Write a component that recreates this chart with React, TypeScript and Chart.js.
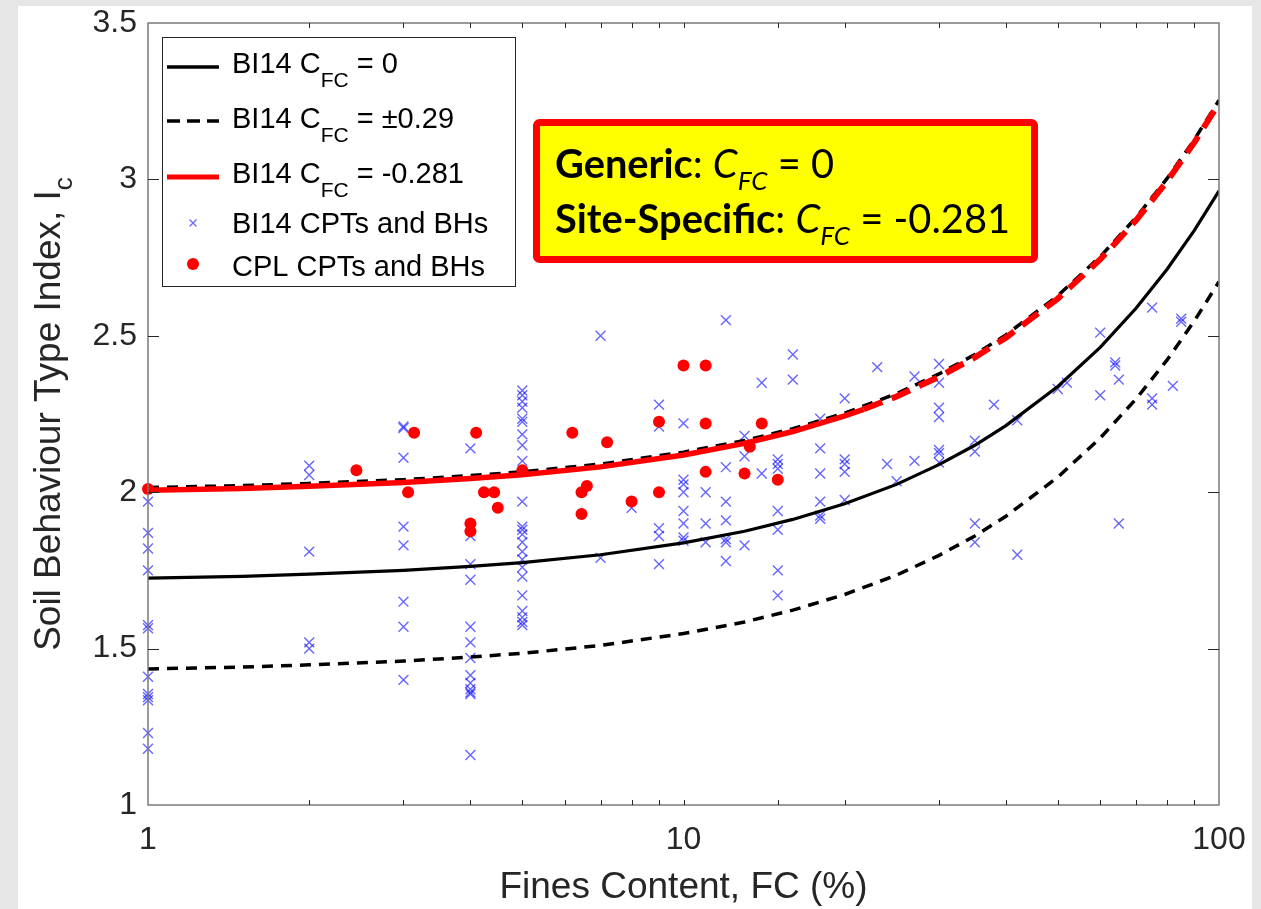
import React, { useEffect, useRef } from "react";
import { Chart, registerables } from "chart.js";

Chart.register(...registerables);

// ---------------- DATA ----------------
// Boulanger & Idriss (2014) curves, values read at these fines contents
const curveFC = [1, 1.5, 2, 3, 4, 5, 7, 10, 13, 16, 20, 25, 30, 35, 40, 50, 60, 70, 80, 90, 100];
const icGeneric = [1.725, 1.731, 1.738, 1.75, 1.763, 1.775, 1.8, 1.838, 1.875, 1.913, 1.963, 2.025, 2.088, 2.15, 2.213, 2.338, 2.463, 2.588, 2.713, 2.838, 2.963];
const icUpper = [2.015, 2.021, 2.028, 2.04, 2.053, 2.065, 2.09, 2.128, 2.165, 2.203, 2.253, 2.315, 2.378, 2.44, 2.503, 2.628, 2.753, 2.878, 3.003, 3.128, 3.253];
const icLower = [1.435, 1.441, 1.448, 1.46, 1.473, 1.485, 1.51, 1.548, 1.585, 1.623, 1.673, 1.735, 1.798, 1.86, 1.923, 2.048, 2.173, 2.298, 2.423, 2.548, 2.673];

// Site-specific curve: solid part, then dashed part
const siteSolidFC = [1, 1.5, 2, 3, 4, 5, 7, 10, 13, 16, 20, 21.7];
const siteSolidIc = [2.006, 2.012, 2.019, 2.031, 2.044, 2.056, 2.081, 2.119, 2.156, 2.194, 2.244, 2.265];
const siteDashFC = [21.7, 25, 30, 35, 40, 50, 60, 70, 80, 90, 100];
const siteDashIc = [2.265, 2.306, 2.369, 2.431, 2.494, 2.619, 2.744, 2.869, 2.994, 3.119, 3.244];

// BI14 CPTs and BHs (blue crosses)
const blueFC = [
  1, 1, 1, 1, 1, 1, 1, 1, 1, 1, 1, 1,
  2, 2, 2, 2, 2,
  3, 3, 3, 3, 3, 3, 3, 3,
  4, 4, 4, 4, 4, 4, 4, 4, 4, 4, 4, 4, 4,
  5, 5, 5, 5, 5, 5, 5, 5, 5, 5, 5, 5, 5, 5, 5, 5, 5, 5, 5, 5, 5, 5, 5,
  7, 7, 8,
  9, 9, 9, 9, 9,
  10, 10, 10, 10, 10, 10, 10, 10,
  11, 11, 11,
  12, 12, 12, 12, 12, 12, 12,
  13, 13, 13,
  14, 14,
  15, 15, 15, 15, 15, 15, 15,
  16, 16,
  18, 18, 18, 18, 18, 18,
  20, 20, 20, 20, 20,
  23, 24, 25, 27, 27,
  30, 30, 30, 30, 30, 30, 30,
  35, 35, 35, 35,
  38, 42, 42, 50, 52,
  60, 60, 64, 64, 65, 65,
  75, 75, 75, 82, 85, 85,
];
const blueIc = [
  1.97, 1.87, 1.82, 1.75, 1.575, 1.565, 1.41, 1.355, 1.345, 1.335, 1.23, 1.18,
  2.085, 2.055, 1.81, 1.52, 1.5,
  2.21, 2.205, 2.11, 1.89, 1.83, 1.65, 1.57, 1.4,
  2.14, 1.86, 1.77, 1.72, 1.57, 1.52, 1.47, 1.415, 1.39, 1.37, 1.36, 1.355, 1.16,
  2.325, 2.31, 2.29, 2.27, 2.235, 2.225, 2.185, 2.15, 2.1, 1.97, 1.89, 1.88, 1.865, 1.84, 1.81, 1.785, 1.76, 1.73, 1.67, 1.62, 1.6, 1.585, 1.575,
  2.5, 1.79, 1.95,
  2.28, 2.21, 1.885, 1.86, 1.77,
  2.22, 2.04, 2.025, 2.0, 1.94, 1.9, 1.855, 1.845,
  2.0, 1.9, 1.84,
  2.55, 2.08, 1.97, 1.91, 1.85, 1.84, 1.78,
  2.18, 2.115, 1.83,
  2.35, 2.06,
  2.105, 2.09, 2.075, 1.94, 1.88, 1.75, 1.67,
  2.44, 2.36,
  2.235, 2.14, 2.06, 1.97, 1.925, 1.915,
  2.3, 2.105, 2.09, 2.065, 1.975,
  2.4, 2.09, 2.035, 2.37, 2.1,
  2.41, 2.35, 2.27, 2.24, 2.135, 2.125, 2.095,
  2.165, 2.13, 1.9, 1.84,
  2.28, 2.23, 1.8, 2.33, 2.35,
  2.51, 2.31, 2.415, 2.405, 2.36, 1.9,
  2.59, 2.3, 2.28, 2.34, 2.555, 2.545,
];

// CPL CPTs and BHs (red dots)
const redFC = [1, 2.45, 3.14, 3.06, 4.1, 4, 4, 4.24, 4.43, 4.5, 5, 6.2, 6.45, 6.6, 6.45, 7.2, 8, 9, 9, 10, 11, 11, 11, 13, 13.3, 14, 15];
const redIc = [2.01, 2.07, 2.19, 2.0, 2.19, 1.9, 1.875, 2.0, 2.0, 1.95, 2.07, 2.19, 2.0, 2.02, 1.93, 2.16, 1.97, 2.225, 2.0, 2.405, 2.405, 2.22, 2.065, 2.06, 2.145, 2.22, 2.04];

const xMajorLabels = [1, 10, 100];
const yTickValues = [1, 1.5, 2, 2.5, 3, 3.5];

// ---------------- helpers ----------------
const SANS = '"Liberation Sans", Arial, Helvetica, sans-serif';
const f = (size: number, style = "") => `${style} ${size}px ${SANS}`.trim();
const pts = (xs: number[], ys: number[]) => xs.map((x, i) => ({ x, y: ys[i] }));

type Seg = { t: string; font: string; dy?: number };
function richWidth(ctx: CanvasRenderingContext2D, segs: Seg[]) {
  let w = 0;
  for (const s of segs) {
    ctx.font = s.font;
    w += ctx.measureText(s.t).width;
  }
  return w;
}
function drawRich(ctx: CanvasRenderingContext2D, x: number, y: number, segs: Seg[]) {
  let cx = x;
  for (const s of segs) {
    ctx.font = s.font;
    ctx.fillText(s.t, cx, y + (s.dy || 0));
    cx += ctx.measureText(s.t).width;
  }
  return cx - x;
}

const overlayPlugin = {
  id: "matlabOverlay",
  afterDatasetsDraw(chart: any) {
    const ctx: CanvasRenderingContext2D = chart.ctx;
    const { left, right, top, bottom } = chart.chartArea;
    const xs = chart.scales.x;
    const ys = chart.scales.y;
    ctx.save();
    // axes box
    ctx.strokeStyle = "#7a7a7a";
    ctx.lineWidth = 1.5;
    ctx.strokeRect(left, top, right - left, bottom - top);
    // inward ticks
    ctx.strokeStyle = "#262626";
    ctx.lineWidth = 1;
    ctx.beginPath();
    for (const t of xs.ticks) {
      const px = Math.round(xs.getPixelForValue(t.value)) + 0.5;
      if (px < left + 1 || px > right - 1) continue;
      ctx.moveTo(px, bottom);
      ctx.lineTo(px, bottom - 5);
      ctx.moveTo(px, top);
      ctx.lineTo(px, top + 5);
    }
    for (const t of ys.ticks) {
      const py = Math.round(ys.getPixelForValue(t.value)) + 0.5;
      if (py < top + 1 || py > bottom - 1) continue;
      ctx.moveTo(left, py);
      ctx.lineTo(left + 11, py);
      ctx.moveTo(right, py);
      ctx.lineTo(right - 11, py);
    }
    ctx.stroke();
    ctx.restore();
  },
  afterDraw(chart: any) {
    const ctx: CanvasRenderingContext2D = chart.ctx;
    const { left, right, top, bottom } = chart.chartArea;
    ctx.save();

    // ---- axis titles ----
    ctx.fillStyle = "#262626";
    ctx.textBaseline = "alphabetic";
    ctx.textAlign = "left";
    const xt: Seg[] = [{ t: "Fines Content, FC (%)", font: f(37) }];
    const xw = richWidth(ctx, xt);
    drawRich(ctx, (left + right) / 2 - xw / 2, bottom + 93, xt);

    const yt: Seg[] = [
      { t: "Soil Behaviour Type Index, I", font: f(37) },
      { t: "c", font: f(26), dy: 12 },
    ];
    const yw = richWidth(ctx, yt);
    ctx.save();
    ctx.translate(42, (top + bottom) / 2);
    ctx.rotate(-Math.PI / 2);
    drawRich(ctx, -yw / 2, 0, yt);
    ctx.restore();

    // ---- legend ----
    const lgL = left + 14, lgT = top + 14, lgR = left + 367, lgB = top + 263;
    ctx.fillStyle = "#ffffff";
    ctx.fillRect(lgL, lgT, lgR - lgL, lgB - lgT);
    ctx.strokeStyle = "#262626";
    ctx.lineWidth = 1;
    ctx.strokeRect(lgL + 0.5, lgT + 0.5, lgR - lgL, lgB - lgT);

    const lx0 = lgL + 5, lx1 = lgL + 57, tx = lgL + 70;
    const rowY = [lgT + 30, lgT + 84, lgT + 140, lgT + 186, lgT + 227];
    const sample = (y: number, color: string, w: number, dash: number[]) => {
      ctx.save();
      ctx.strokeStyle = color;
      ctx.lineWidth = w;
      ctx.setLineDash(dash);
      ctx.beginPath();
      ctx.moveTo(lx0, y);
      ctx.lineTo(lx1, y);
      ctx.stroke();
      ctx.restore();
    };
    sample(rowY[0], "#000000", 3.5, []);
    sample(rowY[1], "#000000", 3.5, [13, 7]);
    sample(rowY[2], "#ff0000", 5, []);
    const mx = (lx0 + lx1) / 2;
    ctx.save();
    ctx.strokeStyle = "rgba(0,0,255,0.6)";
    ctx.lineWidth = 1.3;
    ctx.beginPath();
    ctx.moveTo(mx - 3.5, rowY[3] - 3.5);
    ctx.lineTo(mx + 3.5, rowY[3] + 3.5);
    ctx.moveTo(mx + 3.5, rowY[3] - 3.5);
    ctx.lineTo(mx - 3.5, rowY[3] + 3.5);
    ctx.stroke();
    ctx.fillStyle = "#ff0000";
    ctx.beginPath();
    ctx.arc(mx, rowY[4], 6, 0, Math.PI * 2);
    ctx.fill();
    ctx.restore();

    ctx.fillStyle = "#000000";
    const main = f(29), sub = f(21);
    drawRich(ctx, tx, rowY[0] + 6, [
      { t: "BI14 C", font: main }, { t: "FC", font: sub, dy: 14 }, { t: " = 0", font: main },
    ]);
    drawRich(ctx, tx, rowY[1] + 7, [
      { t: "BI14 C", font: main }, { t: "FC", font: sub, dy: 14 }, { t: " = \u00B10.29", font: main },
    ]);
    drawRich(ctx, tx, rowY[2] + 6, [
      { t: "BI14 C", font: main }, { t: "FC", font: sub, dy: 14 }, { t: " = -0.281", font: main },
    ]);
    drawRich(ctx, tx, rowY[3] + 10, [{ t: "BI14 CPTs and BHs", font: main }]);
    drawRich(ctx, tx, rowY[4] + 12, [{ t: "CPL CPTs and BHs", font: main }]);

    // ---- annotation box ----
    const bL = left + 385, bT = top + 96, bR = left + 890, bB = top + 240;
    ctx.fillStyle = "#ffff00";
    ctx.strokeStyle = "#ff0000";
    ctx.lineWidth = 7;
    ctx.beginPath();
    if ((ctx as any).roundRect) (ctx as any).roundRect(bL + 3.5, bT + 3.5, bR - bL - 7, bB - bT - 7, 3);
    else ctx.rect(bL + 3.5, bT + 3.5, bR - bL - 7, bB - bT - 7);
    ctx.fill();
    ctx.stroke();

    const AF = "Lato, 'Open Sans', sans-serif";
    const mk = (s: number) => {
      const b = `bold ${s}px ${AF}`, r = `${s}px ${AF}`, it = `italic ${s}px ${AF}`, is = `italic ${Math.round(s * 0.66)}px ${AF}`;
      return {
        l1: [
          { t: "Generic", font: b }, { t: ": ", font: r }, { t: "C", font: it },
          { t: "FC", font: is, dy: s * 0.3 }, { t: " = 0", font: r },
        ] as Seg[],
        l2: [
          { t: "Site-Specific", font: b }, { t: ": ", font: r }, { t: "C", font: it },
          { t: "FC", font: is, dy: s * 0.3 }, { t: " = -0.281", font: r },
        ] as Seg[],
      };
    };
    const w40 = richWidth(ctx, mk(40).l2);
    const size = 40 * (455 / w40);
    const lines = mk(size);
    ctx.fillStyle = "#000000";
    drawRich(ctx, bL + 22, bT + 59, lines.l1);
    drawRich(ctx, bL + 22, bT + 114, lines.l2);

    ctx.restore();
  },
};

export default function App() {
  const ref = useRef<HTMLCanvasElement>(null);

  useEffect(() => {
    const canvas = ref.current;
    if (!canvas) return;
    const chart = new Chart(canvas, {
      type: "scatter",
      data: {
        datasets: [
          {
            label: "CPL CPTs and BHs",
            data: pts(redFC, redIc),
            pointStyle: "circle",
            pointRadius: 6,
            backgroundColor: "#ff0000",
            borderColor: "#ff0000",
            borderWidth: 0,
            showLine: false,
            order: 0,
            clip: false,
          },
          {
            label: "BI14 CFC = -0.281",
            data: pts(siteSolidFC, siteSolidIc),
            showLine: true,
            borderColor: "#ff0000",
            borderWidth: 5.5,
            pointRadius: 0,
            order: 1,
          },
          {
            label: "BI14 CFC = -0.281 (dashed)",
            data: pts(siteDashFC, siteDashIc),
            showLine: true,
            borderColor: "#ff0000",
            borderWidth: 6,
            borderDash: [20, 10],
            pointRadius: 0,
            order: 1,
          },
          {
            label: "BI14 CFC = 0",
            data: pts(curveFC, icGeneric),
            showLine: true,
            borderColor: "#000000",
            borderWidth: 3.2,
            pointRadius: 0,
            order: 2,
          },
          {
            label: "BI14 CFC = -0.29",
            data: pts(curveFC, icUpper),
            showLine: true,
            borderColor: "#000000",
            borderWidth: 3.5,
            borderDash: [11, 8],
            pointRadius: 0,
            order: 2,
          },
          {
            label: "BI14 CFC = +0.29",
            data: pts(curveFC, icLower),
            showLine: true,
            borderColor: "#000000",
            borderWidth: 3.5,
            borderDash: [11, 8],
            pointRadius: 0,
            order: 2,
          },
          {
            label: "BI14 CPTs and BHs",
            data: pts(blueFC, blueIc),
            pointStyle: "crossRot",
            pointRadius: 7,
            borderColor: "rgba(0,0,255,0.6)",
            backgroundColor: "rgba(0,0,255,0.6)",
            borderWidth: 1.4,
            showLine: false,
            order: 3,
            clip: false,
          },
        ] as any,
      },
      options: {
        animation: false,
        responsive: false,
        devicePixelRatio: 1,
        events: [],
        layout: { autoPadding: false, padding: { left: 0, top: 17, right: 33, bottom: 0 } },
        plugins: {
          legend: { display: false },
          tooltip: { enabled: false },
          title: { display: false },
        },
        scales: {
          x: {
            type: "logarithmic",
            position: "bottom",
            min: 1,
            max: 100,
            grid: { display: false, drawTicks: false },
            border: { display: false },
            title: { display: false },
            afterFit: (s: any) => {
              s.height = 104;
              s.paddingLeft = 0;
              s.paddingRight = 0;
            },
            ticks: {
              autoSkip: false,
              maxRotation: 0,
              padding: 16,
              color: "#262626",
              font: { family: SANS, size: 32 },
              callback: (v: any) => (xMajorLabels.includes(Number(v)) ? String(v) : ""),
            },
          },
          y: {
            type: "linear",
            min: 1,
            max: 3.5,
            grid: { display: false, drawTicks: false },
            border: { display: false },
            title: { display: false },
            afterFit: (s: any) => {
              s.width = 130;
              s.paddingTop = 0;
              s.paddingBottom = 0;
            },
            afterBuildTicks: (s: any) => {
              s.ticks = yTickValues.map((v) => ({ value: v }));
            },
            ticks: {
              padding: 11,
              color: "#262626",
              font: { family: SANS, size: 32, lineHeight: 1 },
              callback: (v: any) => String(v),
            },
          },
        },
      } as any,
      plugins: [overlayPlugin as any],
    });
    return () => chart.destroy();
  }, []);

  return (
    <div
      style={{
        position: "fixed",
        left: 0,
        top: 0,
        width: 1261,
        height: 909,
        background: "#e6e6e6",
        overflow: "hidden",
      }}
    >
      <div
        style={{
          position: "absolute",
          left: 18,
          top: 6,
          width: 1234,
          height: 903,
          background: "#ffffff",
        }}
      >
        <canvas ref={ref} width={1234} height={903} style={{ display: "block", width: 1234, height: 903 }} />
      </div>
    </div>
  );
}
